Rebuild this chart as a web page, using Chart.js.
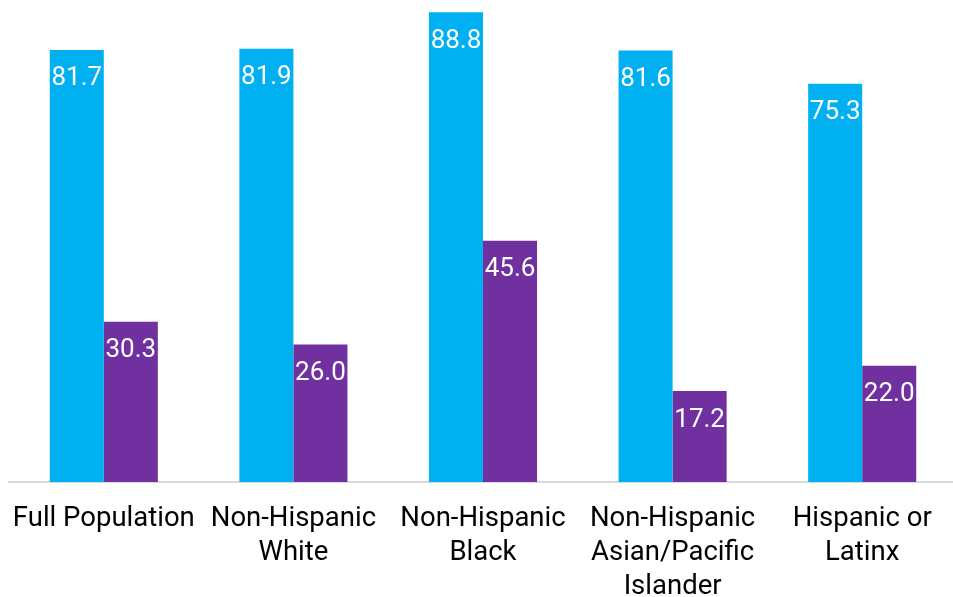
<!DOCTYPE html>
<html>
<head>
<meta charset="utf-8">
<script src="https://cdn.jsdelivr.net/npm/chart.js@4.4.0/dist/chart.umd.min.js"></script>
<style>
  html, body { margin: 0; padding: 0; background: #fff; overflow: hidden; }
  #wrap { position: relative; width: 960px; height: 597px; }
</style>
</head>
<body>
<div id="wrap"><canvas id="chart" width="960" height="597"></canvas></div>
<script>
const categories = [
    'Full Population',
    ['Non-Hispanic', 'White'],
    ['Non-Hispanic', 'Black'],
    ['Non-Hispanic', 'Asian/Pacific', 'Islander'],
    ['Hispanic or', 'Latinx']
];
const seriesA = [81.7, 81.9, 88.8, 81.6, 75.3];
const seriesB = [30.3, 26.0, 45.6, 17.2, 22.0];

const BLUE = '#00B0F0';
const PURPLE = '#7030A0';

// Etiquetas blancas dentro de cada barra, cerca de la parte superior
const barLabels = {
    id: 'barLabels',
    afterDatasetsDraw(chart) {
        const ctx = chart.ctx;
        ctx.save();
        ctx.fillStyle = '#ffffff';
        ctx.font = '26px Roboto';
        ctx.textAlign = 'center';
        ctx.textBaseline = 'middle';
        chart.data.datasets.forEach((ds, i) => {
            chart.getDatasetMeta(i).data.forEach((bar, j) => {
                ctx.fillText(ds.data[j].toFixed(1), bar.x, bar.y + 29);
            });
        });
        ctx.restore();
    }
};

const ctx = document.getElementById('chart').getContext('2d');
const myChart = new Chart(ctx, {
    type: 'bar',
    data: {
        labels: categories,
        datasets: [
            { data: seriesA, backgroundColor: BLUE },
            { data: seriesB, backgroundColor: PURPLE }
        ]
    },
    options: {
        responsive: false,
        animation: false,
        layout: { padding: { top: 6, left: 9, right: 3, bottom: 0 } },
        datasets: { bar: { categoryPercentage: 0.57, barPercentage: 1.0 } },
        plugins: {
            legend: { display: false },
            tooltip: { enabled: false }
        },
        scales: {
            x: {
                grid: { display: false, drawTicks: false },
                border: { display: true, color: '#d9d9d9', width: 2 },
                ticks: {
                    color: '#000000',
                    font: { family: 'Roboto', size: 27.5, lineHeight: 1.24 },
                    padding: 20,
                    maxRotation: 0,
                    autoSkip: false
                },
                afterFit(scale) {
                    // Sin relleno extra: las etiquetas pueden salirse un poco
                    scale.height = 115;
                    scale.paddingLeft = 0;
                    scale.paddingRight = 0;
                }
            },
            y: {
                display: false,
                min: 0,
                max: 90
            }
        }
    },
    plugins: [barLabels]
});
</script>
</body>
</html>
